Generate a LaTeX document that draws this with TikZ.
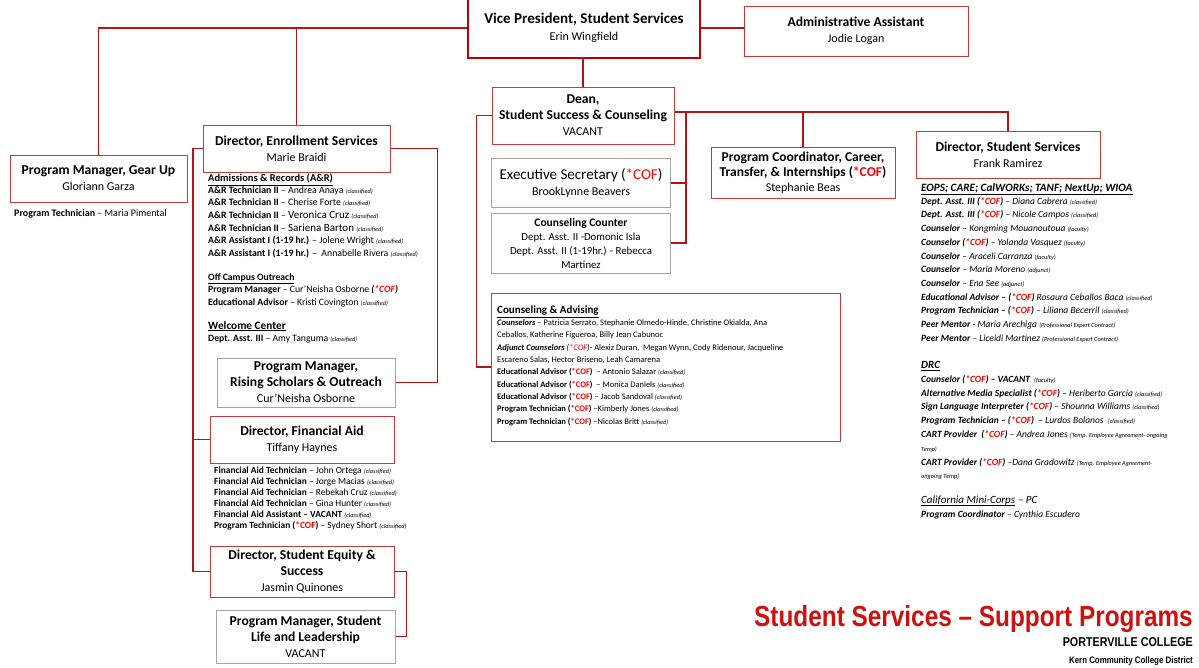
\documentclass[tikz,border=0pt]{standalone}
\usepackage{fontspec}
\setmainfont{Carlito}
\newfontfamily\narrowf[FakeStretch=0.84]{Liberation Sans}
\definecolor{boxred}{RGB}{192,60,60}
\definecolor{linered}{RGB}{180,20,20}
\definecolor{vpred}{RGB}{190,0,0}
\definecolor{boxgray}{RGB}{165,165,165}
\definecolor{cofred}{RGB}{255,0,0}
\definecolor{titlered}{RGB}{205,16,16}
\newcommand\hdf{\fontsize{13.6}{16}\selectfont\bfseries}
\newcommand\nmf{\fontsize{12}{16}\selectfont\mdseries}
\newcommand\cofr{\textcolor{cofred}{*COF}}
\newcommand\nt[1]{{\fontsize{6.3}{6}\selectfont\itshape\mdseries #1}}
\tikzset{
  rbox/.style={draw=boxred, line width=1pt, fill=white, align=center, inner sep=1pt, font=\fontsize{13.6}{16}\selectfont},
  gbox/.style={draw=boxgray, line width=1pt, fill=white, align=center, inner sep=1pt, font=\fontsize{13.6}{16}\selectfont},
  conn/.style={draw=linered, line width=1.1pt},
  lst/.style={align=left, inner sep=0pt, anchor=north west},
  ul/.style={line width=0.7pt},
}
\begin{document}
\begin{tikzpicture}[x=1pt,y=-1pt]
\useasboundingbox (0,0) rectangle (1199,667);
% top row
\node[rbox, draw=vpred, line width=2.4pt, minimum width=232pt, minimum height=60pt, font=\fontsize{15}{17}\selectfont] (vp) at (584,28)
  {{\bfseries Vice President, Student Services}\\{\nmf Erin Wingfield}};
\node[rbox, minimum width=224pt, minimum height=50pt] (admin) at (856,31)
  {{\hdf Administrative Assistant}\\{\nmf Jodie Logan}};
% left column
\node[rbox, minimum width=177pt, minimum height=47pt] (gear) at (98.5,178.5)
  {{\hdf Program Manager, Gear Up}\\{\nmf Gloriann Garza}};
\node[lst, font=\fontsize{10}{12}\selectfont] (geart) at (14,209) {\textbf{Program Technician} – Maria Pimental};
\node[rbox, minimum width=187pt, minimum height=47pt] (enr) at (296.5,148.5)
  {{\hdf Director, Enrollment Services}\\{\nmf Marie Braidi}};
\node[lst, font=\fontsize{10.5}{12}\selectfont\bfseries] (arh) at (208,174) {\underline{Admissions \& Records (A\&R)}};
\node[lst, font=\fontsize{9.8}{12.67}\selectfont] (ar) at (208,186) {%
\textbf{A\&R Technician II} – Andrea Anaya \nt{(classified)}\\
\textbf{A\&R Technician II} – Cherise Forte \nt{(classified)}\\
\textbf{A\&R Technician II} – {\fontsize{11}{12}\selectfont Veronica Cruz} \nt{(classified)}\\
\textbf{A\&R Technician II} – {\fontsize{11}{12}\selectfont Sariena Barton} \nt{(classified)}\\
\textbf{A\&R Assistant I (1-19 hr.)} – Jolene Wright \nt{(classified)}\\
\textbf{A\&R Assistant I (1-19 hr.)} –\ \ Annabelle Rivera \nt{(classified)}};
\node[lst, font=\fontsize{9.7}{12}\selectfont\bfseries] (ocoh) at (208,273) {\underline{Off Campus Outreach}};
\node[lst, font=\fontsize{9.7}{12.5}\selectfont] (oco) at (208,285.5) {%
\textbf{Program Manager} – Cur’Neisha Osborne {\itshape\bfseries(\cofr)}\\
\textbf{Educational Advisor} – Kristi Covington \nt{(classified)}};
\node[lst, font=\fontsize{11.3}{12}\selectfont\bfseries] (wch) at (208,321) {\underline{Welcome Center}};
\node[lst, font=\fontsize{9.7}{13}\selectfont] (wc) at (208,335) {%
\textbf{Dept. Asst. III} – Amy Tanguma \nt{(classified)}};
\node[gbox, minimum width=178pt, minimum height=49pt] (rising) at (306,382.5)
  {{\hdf Program Manager,}\\{\hdf Rising Scholars \& Outreach}\\{\nmf Cur’Neisha Osborne}};
\node[rbox, minimum width=184pt, minimum height=47pt] (finaid) at (302,439.5)
  {{\hdf Director, Financial Aid}\\{\nmf Tiffany Haynes}};
\node[lst, font=\fontsize{9.4}{11}\selectfont] (fal) at (214,467) {%
\textbf{Financial Aid Technician} – John Ortega \nt{(classified)}\\
\textbf{Financial Aid Technician} – Jorge Macias \nt{(classified)}\\
\textbf{Financial Aid Technician} – Rebekah Cruz \nt{(classified)}\\
\textbf{Financial Aid Technician} – Gina Hunter \nt{(classified)}\\
\textbf{Financial Aid Assistant – VACANT} \nt{(classified)}\\
\textbf{Program Technician (\cofr)} – Sydney Short \nt{(classified)}};
\node[rbox, minimum width=184pt, minimum height=51pt] (equity) at (302,571.5)
  {{\hdf Director, Student Equity \&}\\{\hdf Success}\\{\nmf Jasmin Quinones}};
\node[gbox, minimum width=179pt, minimum height=53pt] (life) at (305.5,636.5)
  {{\hdf Program Manager, Student}\\{\hdf Life and Leadership}\\{\nmf VACANT}};
% middle
\node[rbox, minimum width=182pt, minimum height=57pt] (dean) at (583,115.5)
  {{\hdf Dean,}\\{\hdf Student Success \& Counseling}\\{\nmf VACANT}};
\node[gbox, minimum width=179pt, minimum height=49pt] (es) at (581,183)
  {{\fontsize{15}{17}\selectfont Executive Secretary (\cofr)}\\{\nmf BrookLynne Beavers}};
\node[gbox, minimum width=179pt, minimum height=60pt, font=\fontsize{10.8}{14}\selectfont] (cc) at (581,243)
  {{\fontsize{11.5}{14}\selectfont\bfseries Counseling Counter}\\Dept. Asst. II -Domonic Isla\\Dept. Asst. II (1-19hr.) - Rebecca\\Martinez};
\node[rbox, minimum width=349pt, minimum height=148pt] (ca) at (665.5,367) {};
\node[lst, font=\fontsize{11}{12}\selectfont\bfseries] (cah) at (497,306) {\underline{Counseling \& Advising}};
\node[lst, font=\fontsize{8.5}{12.3}\selectfont] (cal) at (497,319.5) {%
\textbf{\itshape Counselors} – Patricia Serrato, Stephanie Olmedo-Hinde, Christine Okialda, Ana\\
Ceballos, Katherine Figueroa, Billy Jean Cabunoc\\
\textbf{\itshape Adjunct Counselors} {\itshape(\cofr)}- Alexiz Duran,\ \ Megan Wynn, Cody Ridenour, Jacqueline\\
Escareno Salas, Hector Briseno, Leah Camarena\\
\textbf{Educational Advisor (\cofr)}\ \ – Antonio Salazar \nt{(classified)}\\
\textbf{Educational Advisor (\cofr)}\ \ – Monica Daniels \nt{(classified)}\\
\textbf{Educational Advisor (\cofr)} – Jacob Sandoval \nt{(classified)}\\
\textbf{Program Technician (\cofr)} –Kimberly Jones \nt{(classified)}\\
\textbf{Program Technician (\cofr)} –Nicolas Britt \nt{(classified)}};
\node[rbox, minimum width=184pt, minimum height=51pt, font=\fontsize{13.5}{15}\selectfont] (pc) at (803,172.5)
  {{\bfseries Program Coordinator, Career,}\\{\bfseries Transfer, \& Internships (\cofr)}\\{\nmf Stephanie Beas}};
\node[rbox, minimum width=184pt, minimum height=47pt] (dss) at (1008,154.5)
  {{\hdf Director, Student Services}\\{\nmf Frank Ramirez}};
\node[lst, font=\fontsize{11.2}{12}\selectfont\bfseries\itshape] (eopsh) at (921,183) {\underline{EOPS; CARE; CalWORKs; TANF; NextUp; WIOA}};
\node[lst, font=\fontsize{9.5}{13.7}\selectfont\itshape] (eops) at (921,197) {%
\textbf{Dept. Asst. III (\cofr)} – Diana Cabrera \nt{(classified)}\\
\textbf{Dept. Asst. III (\cofr)} – Nicole Campos \nt{(classified)}\\
\textbf{Counselor} – Kongming Mouanoutoua \nt{(faculty)}\\
\textbf{Counselor (\cofr)} – Yolanda Vasquez \nt{(faculty)}\\
\textbf{Counselor} – Araceli Carranza \nt{(faculty)}\\
\textbf{Counselor} – Maria Moreno \nt{(adjunct)}\\
\textbf{Counselor} – Ena See \nt{(adjunct)}\\
\textbf{Educational Advisor – (\cofr)} Rosaura Ceballos Baca \nt{(classified)}\\
\textbf{Program Technician – (\cofr)} – Liliana Becerril \nt{(classified)}\\
\textbf{Peer Mentor} - Maria Arechiga \nt{(Professional Expert Contract)}\\
\textbf{Peer Mentor} – Liceidi Martinez \nt{(Professional Expert Contract)}};
\node[lst, font=\fontsize{11}{12}\selectfont\bfseries\itshape] (drch) at (921,361) {\underline{DRC}};
\node[lst, font=\fontsize{9.5}{13.8}\selectfont\itshape] (drc) at (921,375) {%
\textbf{Counselor (\cofr) – VACANT}\ \ \nt{(faculty)}\\
\textbf{Alternative Media Specialist (\cofr)} – Heriberto Garcia \nt{(classified)}\\
\textbf{Sign Language Interpreter (\cofr)} – Shounna Williams \nt{(classified)}\\
\textbf{Program Technician – (\cofr)}\ \ – Lurdos Bolanos\ \ \nt{(classified)}\\
\textbf{CART Provider\ \ (\cofr)} – Andrea Jones \nt{(Temp. Employee Agreement- ongoing}\\
\nt{Temp)}\\
\textbf{CART Provider (\cofr)} –Dana Gradowitz \nt{(Temp. Employee Agreement-}\\
\nt{ongoing Temp)}};
\node[lst, font=\fontsize{11}{12}\selectfont\itshape] (minih) at (921,496) {California Mini-Corps};
\node[anchor=base west, inner sep=0pt, font=\fontsize{11}{12}\selectfont\itshape] (minipc) at (minih.base east) {\ – PC};
\draw[ul] ([yshift=-1.6pt]minih.base west) -- ([yshift=-1.6pt]minih.base east);
\node[lst, font=\fontsize{9.5}{14}\selectfont\itshape] (mini) at (921,511) {%
\textbf{Program Coordinator} – Cynthia Escudero};
% title
\node[anchor=base east, inner sep=0pt, text=titlered, font=\narrowf\bfseries\fontsize{29}{30}\selectfont] (title) at (1193,626) {Student Services – Support Programs};
\node[anchor=base east, inner sep=0pt, font=\narrowf\bfseries\fontsize{12.8}{16}\selectfont] (pcol) at (1193,646) {PORTERVILLE COLLEGE};
\node[anchor=base east, inner sep=0pt, font=\narrowf\bfseries\fontsize{9.4}{12}\selectfont] (kern) at (1193,663) {Kern Community College District};
% connectors
\coordinate (lft) at (193,148.5);
\coordinate (drt) at (686,112);
\draw[conn] (vp.west) -| (gear.north);
\draw[conn] (vp.west -| enr.north) -- (enr.north);
\draw[conn] (vp.east) -- (vp.east -| admin.west);
\draw[conn] (dean.north |- vp.south) -- (dean.north);
\draw[conn] (enr.east) -- ++(47,0) |- (rising.east);
\draw[conn] (enr.west) -- (lft) |- (equity.west);
\draw[conn] (lft) |- (finaid.west);
\draw[conn] (equity.east) -- ++(12,0) |- (life.east);
\draw[conn] (dean.west) -- ++(-15,0) |- (ca.west);
\draw[conn] (dean.east |- drt) -- (drt) |- (cc.east);
\draw[conn] (drt) |- (es.east);
\draw[conn] (drt) -- (drt -| dss.north) -- (dss.north);
\draw[conn] (drt -| pc.north) -- (pc.north);
\end{tikzpicture}
\end{document}
